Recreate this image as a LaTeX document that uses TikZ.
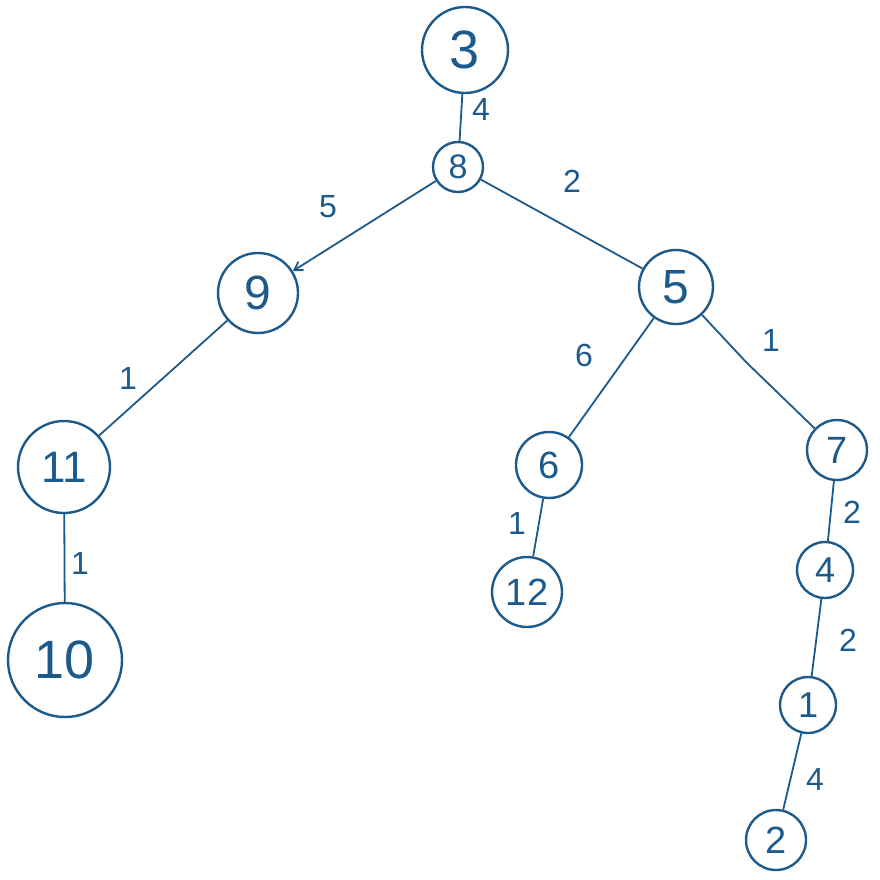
\documentclass[tikz,border=0pt]{standalone}
\usepackage{fontspec}
\setmainfont{Liberation Sans}
\usetikzlibrary{arrows.meta}
\definecolor{ink}{HTML}{1D5A8C}
\begin{document}
\begin{tikzpicture}[x=1pt,y=-1pt,
  vert/.style={circle,draw=ink,line width=2.4pt,text=ink,inner sep=0pt,minimum size=#1},
  edge/.style={draw=ink,line width=1.8pt},
  lab/.style={text=ink,font=\fontsize{32}{34}\selectfont}]
\useasboundingbox (0,0) rectangle (880,879);
\node[vert=86pt,font=\fontsize{54}{56}\selectfont] (n3) at (465,50) {3};
\node[vert=50pt,font=\fontsize{34}{36}\selectfont] (n8) at (458,167) {8};
\node[vert=80pt,font=\fontsize{48}{50}\selectfont] (n9) at (258,293) {9};
\node[vert=74pt,font=\fontsize{48}{50}\selectfont] (n5) at (676,287) {5};
\node[vert=92pt,font=\fontsize{44}{46}\selectfont] (n11) at (64,467) {11};
\node[vert=114pt,font=\fontsize{54}{56}\selectfont] (n10) at (65,660) {10};
\node[vert=66pt,font=\fontsize{38}{40}\selectfont] (n6) at (549,465) {6};
\node[vert=70pt,font=\fontsize{38}{40}\selectfont] (n12) at (527,592) {12};
\node[vert=60pt,font=\fontsize{38}{40}\selectfont] (n7) at (837,450) {7};
\node[vert=56pt,font=\fontsize{36}{38}\selectfont] (n4) at (825,570) {4};
\node[vert=56pt,font=\fontsize{36}{38}\selectfont] (n1) at (808,705) {1};
\node[vert=60pt,font=\fontsize{38}{40}\selectfont] (n2) at (776,840) {2};
\coordinate (k57) at (746,362);
\draw[edge] (n3) -- (n8);
\draw[edge,-{Straight Barb[length=8pt,width=10pt]}] (n8) -- (n9);
\draw[edge] (n8) -- (n5);
\draw[edge] (n9) -- (n11);
\draw[edge] (n11) -- (n10);
\draw[edge] (n5) -- (k57) -- (n7);
\draw[edge] (n5) -- (n6);
\draw[edge] (n6) -- (n12);
\draw[edge] (n7) -- (n4);
\draw[edge] (n4) -- (n1);
\draw[edge] (n1) -- (n2);
\node[lab] (l38) at (481,109) {4};
\node[lab] (l89) at (328,207) {5};
\node[lab] (l85) at (572,181) {2};
\node[lab] (l911) at (128,378) {1};
\node[lab] (l1110) at (80,563) {1};
\node[lab] (l56) at (584,355) {6};
\node[lab] (l57) at (771,340) {1};
\node[lab] (l612) at (517,523) {1};
\node[lab] (l74) at (852,512) {2};
\node[lab] (l41) at (848,640) {2};
\node[lab] (l12) at (815,779) {4};
\end{tikzpicture}
\end{document}
